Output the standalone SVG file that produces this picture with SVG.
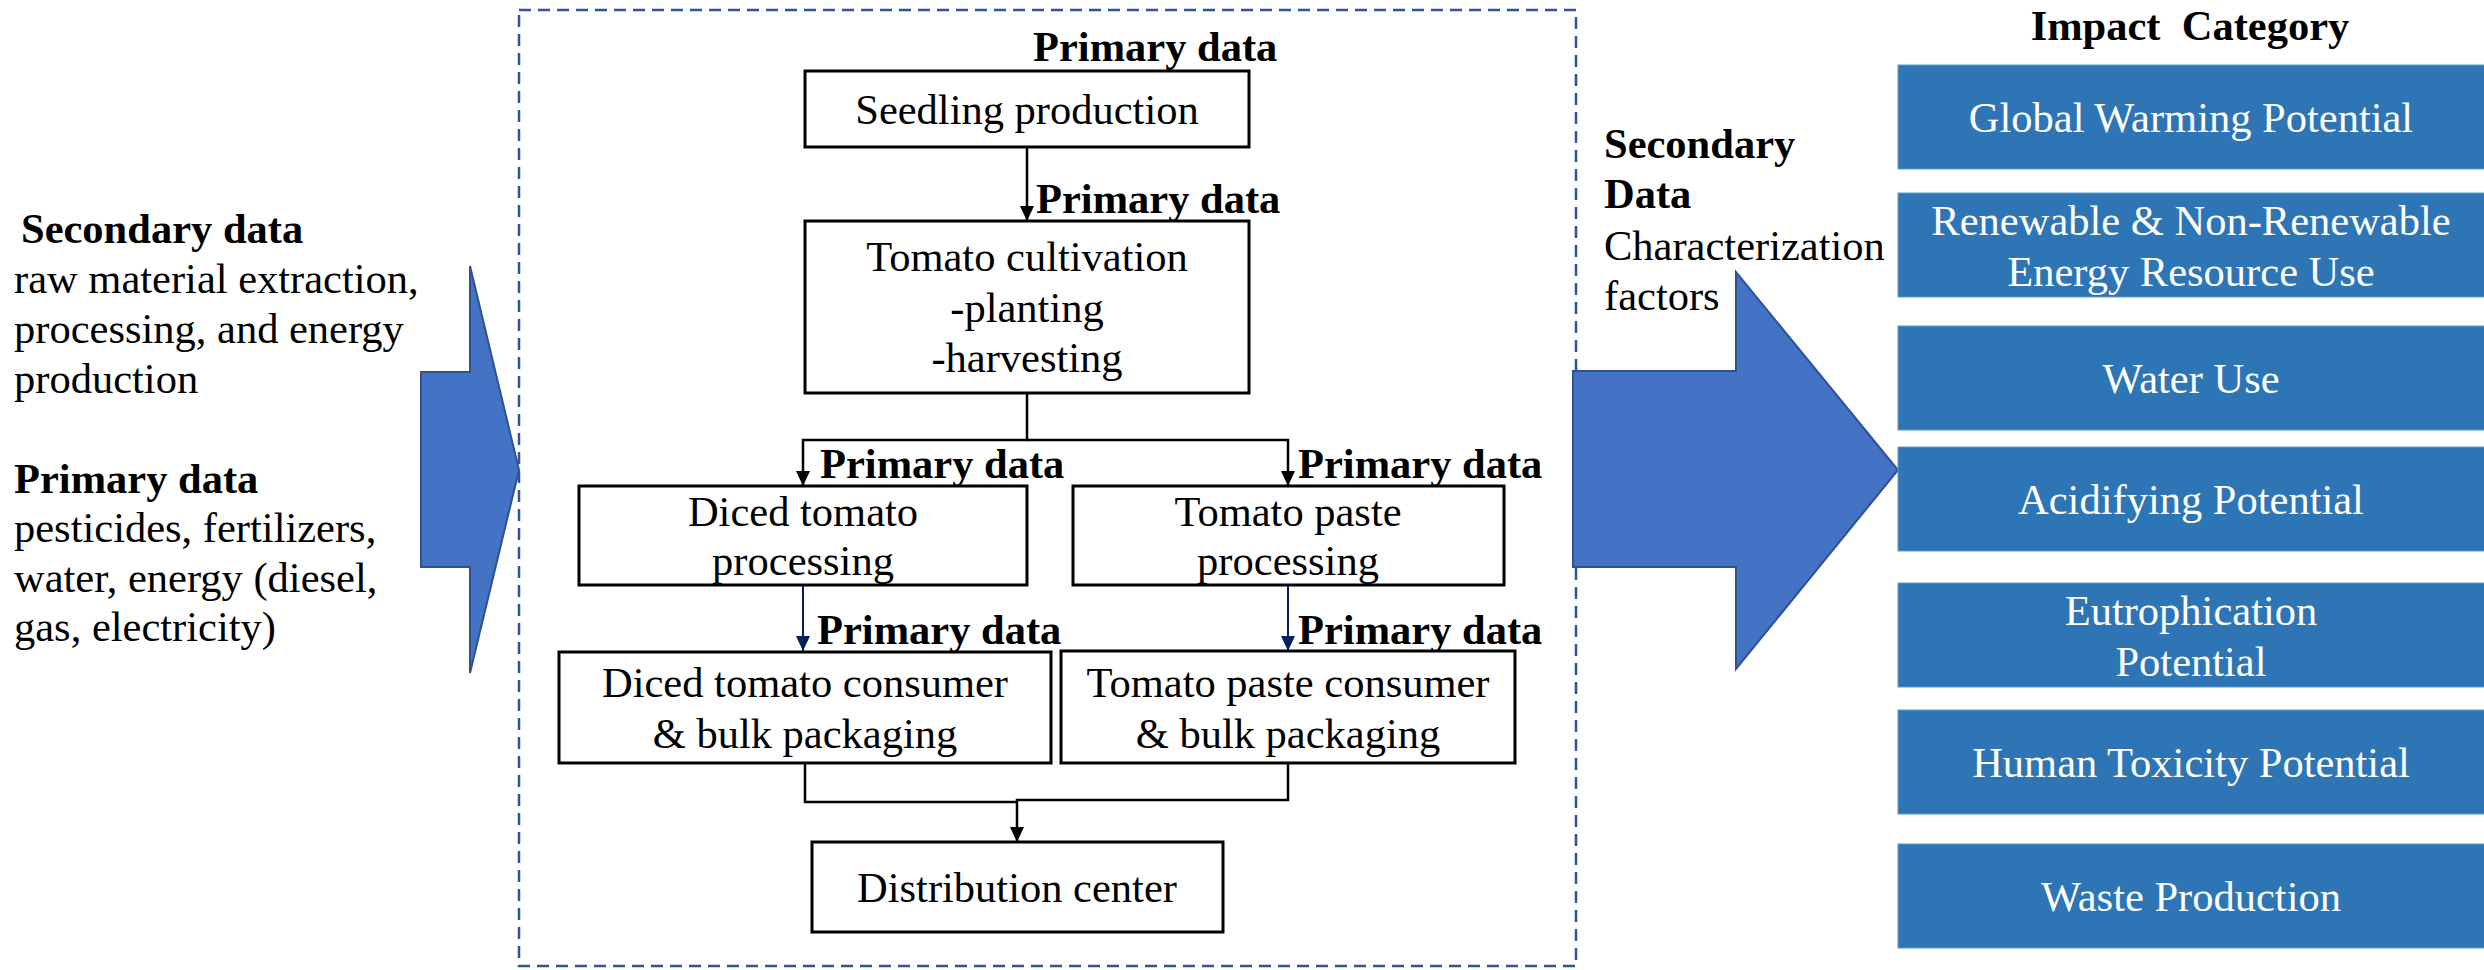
<svg xmlns="http://www.w3.org/2000/svg" width="2484" height="970" viewBox="0 0 2484 970">
<style>
text{font-family:"Liberation Serif","Times New Roman",serif;font-size:42.5px;fill:#000}
.b{font-weight:bold}
.c{text-anchor:middle}
.w{fill:#fff}
.box{fill:#fff;stroke:#000;stroke-width:3}
.imp{fill:#2E75B6;stroke:#5B9BD5;stroke-width:1}
.con{fill:none;stroke:#000;stroke-width:2.5}
.blu{fill:none;stroke:#002060;stroke-width:2}
.big{fill:#4472C4;stroke:#2F528F;stroke-width:2}
</style>
<defs>
<marker id="ah" markerUnits="userSpaceOnUse" markerWidth="16" markerHeight="16" refX="15" refY="7" orient="auto"><path d="M0,0 L15,7 L0,14 Z" fill="#000"/></marker>
<marker id="ahb" markerUnits="userSpaceOnUse" markerWidth="16" markerHeight="16" refX="15" refY="7" orient="auto"><path d="M0,0 L15,7 L0,14 Z" fill="#002060"/></marker>
</defs>
<rect width="2484" height="970" fill="#fff"/>

<g id="boundary">
<rect x="519" y="10" width="1057" height="956" fill="none" stroke="#2F5597" stroke-width="2.5" stroke-dasharray="12 7"/>
</g>

<g id="left-inputs">
<text class="b" x="21" y="243">Secondary data</text>
<text x="14" y="293">raw material extraction,</text>
<text x="14" y="343">processing, and energy</text>
<text x="14" y="393">production</text>
<text class="b" x="14" y="493">Primary data</text>
<text x="14" y="542">pesticides, fertilizers,</text>
<text x="14" y="592">water, energy (diesel,</text>
<text x="14" y="641">gas, electricity)</text>
</g>

<g id="left-arrow">
<polygon class="big" points="421,372 470,372 470,266 519,470 470,673 470,567 421,567"/>
</g>

<g id="connectors">
<path class="con" d="M1027,147 V221" marker-end="url(#ah)"/>
<path class="con" d="M1027,393 V440 H803 V486" marker-end="url(#ah)"/>
<path class="con" d="M1027,440 H1288 V486" marker-end="url(#ah)"/>
<path class="blu" d="M803,585 V651" marker-end="url(#ahb)"/>
<path class="blu" d="M1288,585 V651" marker-end="url(#ahb)"/>
<path class="con" d="M805,763 V802 H1017"/>
<path class="con" d="M1288,763 V800 H1017 V842" marker-end="url(#ah)"/>
</g>

<g id="labels">
<text class="b" x="1033" y="61">Primary data</text>
<text class="b" x="1036" y="213">Primary data</text>
<text class="b" x="820" y="478">Primary data</text>
<text class="b" x="1298" y="478">Primary data</text>
<text class="b" x="817" y="644">Primary data</text>
<text class="b" x="1298" y="644">Primary data</text>
</g>

<g id="seedling">
<rect class="box" x="805" y="71" width="444" height="76"/>
<text class="c" x="1027" y="124">Seedling production</text>
</g>
<g id="cultivation">
<rect class="box" x="805" y="221" width="444" height="172"/>
<text class="c" x="1027" y="271">Tomato cultivation</text>
<text class="c" x="1027" y="322">-planting</text>
<text class="c" x="1027" y="372">-harvesting</text>
</g>
<g id="diced-processing">
<rect class="box" x="579" y="486" width="448" height="99"/>
<text class="c" x="803" y="526">Diced tomato</text>
<text class="c" x="803" y="575">processing</text>
</g>
<g id="paste-processing">
<rect class="box" x="1073" y="486" width="431" height="99"/>
<text class="c" x="1288" y="526">Tomato paste</text>
<text class="c" x="1288" y="575">processing</text>
</g>
<g id="diced-packaging">
<rect class="box" x="559" y="652" width="492" height="111"/>
<text class="c" x="805" y="697">Diced tomato consumer</text>
<text class="c" x="805" y="748">&amp; bulk packaging</text>
</g>
<g id="paste-packaging">
<rect class="box" x="1061" y="651" width="454" height="112"/>
<text class="c" x="1288" y="697">Tomato paste consumer</text>
<text class="c" x="1288" y="748">&amp; bulk packaging</text>
</g>
<g id="distribution">
<rect class="box" x="812" y="842" width="411" height="90"/>
<text class="c" x="1017" y="902">Distribution center</text>
</g>

<g id="right-arrow">
<polygon class="big" points="1573,371 1736,371 1736,272 1898,470 1736,669 1736,567 1573,567"/>
</g>

<g id="secondary-right">
<text class="b" x="1604" y="158">Secondary</text>
<text class="b" x="1604" y="208">Data</text>
<text x="1604" y="260">Characterization</text>
<text x="1604" y="310">factors</text>
</g>

<g id="impact-title">
<text class="b c" x="2190" y="40" xml:space="preserve">Impact  Category</text>
</g>
<g id="impact-gwp">
<rect class="imp" x="1898" y="65" width="590" height="104"/>
<text class="c w" x="2191" y="132">Global Warming Potential</text>
</g>
<g id="impact-energy">
<rect class="imp" x="1898" y="193" width="590" height="104"/>
<text class="c w" x="2191" y="235">Renewable &amp; Non-Renewable</text>
<text class="c w" x="2191" y="286">Energy Resource Use</text>
</g>
<g id="impact-water">
<rect class="imp" x="1898" y="326" width="590" height="104"/>
<text class="c w" x="2191" y="393">Water Use</text>
</g>
<g id="impact-acid">
<rect class="imp" x="1898" y="447" width="590" height="104"/>
<text class="c w" x="2191" y="514">Acidifying Potential</text>
</g>
<g id="impact-eutro">
<rect class="imp" x="1898" y="583" width="590" height="104"/>
<text class="c w" x="2191" y="625">Eutrophication</text>
<text class="c w" x="2191" y="676">Potential</text>
</g>
<g id="impact-tox">
<rect class="imp" x="1898" y="710" width="590" height="104"/>
<text class="c w" x="2191" y="777">Human Toxicity Potential</text>
</g>
<g id="impact-waste">
<rect class="imp" x="1898" y="844" width="590" height="104"/>
<text class="c w" x="2191" y="911">Waste Production</text>
</g>
</svg>
